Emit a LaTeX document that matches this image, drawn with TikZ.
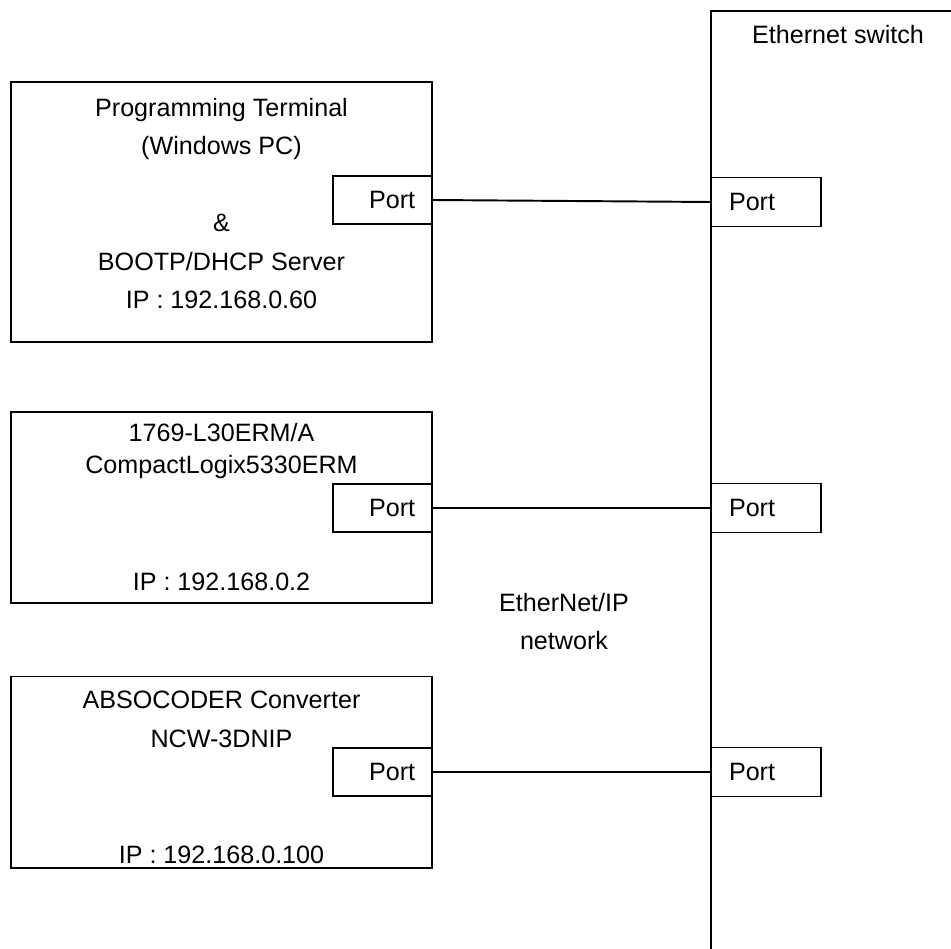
\documentclass[tikz,border=0pt]{standalone}
\usepackage{fontspec}
\setmainfont{Liberation Sans}
\usepackage{tikz}
\usetikzlibrary{positioning}

\begin{document}
\begin{tikzpicture}[
        x=0.02cm, y=-0.02cm,
        line width=1.1pt,
        device/.style={rectangle, draw, anchor=north west, minimum width=8.43cm, inner sep=0pt, outer sep=0pt},
        tport/.style={rectangle, draw, fill=white, anchor=east, inner xsep=0.34cm, inner ysep=0pt, text width=1.3cm, align=right, minimum height=0.96cm, outer sep=0pt, font=\fontsize{14.3pt}{21.9pt}\selectfont},
        sport/.style={rectangle, draw, fill=white, anchor=west, inner xsep=0.36cm, inner ysep=0pt, text width=1.48cm, align=left, minimum height=0.98cm, outer sep=0pt, font=\fontsize{14.3pt}{21.9pt}\selectfont},
        txt/.style={anchor=base, align=center, font=\fontsize{14.3pt}{21.9pt}\selectfont},
        link/.style={line width=1.1pt}
    ]
        \useasboundingbox (0,0) rectangle (951,949);

        % devices (texts sit on the baseline of their last line)
        \node[device, minimum height=5.2cm] (term) at (10.7,82) {};
        \node[device, minimum height=3.82cm] (plc) at (10.7,412) {};
        \node[device, minimum height=3.84cm] (conv) at (10.7,676.5) {};

        \node[txt] (termtxt) at (221.5,308.5) {Programming Terminal\\(Windows PC)\\[0.77cm]\&\\BOOTP/DHCP Server\\IP : 192.168.0.60};
        \node[txt] (plctxt) at (221.5,473.3) {1769-L30ERM/A\\[-0.136cm]CompactLogix5330ERM};
        \node[txt] (plcip) at (221.5,590.7) {IP : 192.168.0.2};
        \node[txt] (convtxt) at (221.5,747.3) {ABSOCODER Converter\\NCW-3DNIP};
        \node[txt] (convip) at (221.5,864) {IP : 192.168.0.100};

        \node[tport] (tport1) at (term.east |- 0,200) {Port};
        \node[tport] (tport2) at (plc.east |- 0,508) {Port};
        \node[tport] (tport3) at (conv.east |- 0,772) {Port};

        % switch
        \coordinate (swtl) at (711,10.7);
        \draw (711,949) -- (swtl) -- (951,10.7);
        \node[txt] (swname) at (838,43.3) {Ethernet switch};

        \node[sport] (sport1) at (swtl |- 0,202) {Port};
        \node[sport] (sport2) at (swtl |- 0,508) {Port};
        \node[sport] (sport3) at (swtl |- 0,772) {Port};

        \node[txt] (nettxt) at (564,650) {EtherNet/IP\\network};

        \draw[link] (tport1.east) -- (sport1.west);
        \draw[link] (tport2) -- (sport2);
        \draw[link] (tport3) -- (sport3);
    \end{tikzpicture}
\end{document}
